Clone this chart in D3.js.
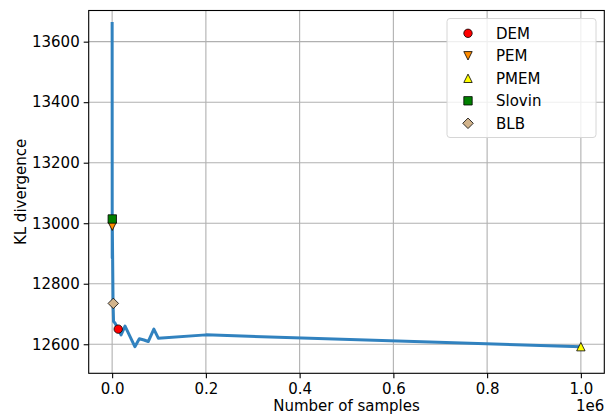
<!DOCTYPE html>
<html lang="en">
<head>
  <meta charset="UTF-8">
  <title>KL divergence</title>
  <style>
    body { margin: 0; background: #fff; }
    text { font-family: 'DejaVu Sans', sans-serif; fill: #000; }
  </style>
</head>
<body>
  <svg id="svg" width="615" height="416"></svg>

  <script src="https://d3js.org/d3.v7.min.js"></script>
  <script>
    // curve: number of samples vs KL divergence
    const sampleSizes = [10, 200, 400, 2000, 3000, 6000, 13000, 19000, 27500, 48500, 58000, 68000, 77000, 89000, 98500, 200000, 1000000]
    const klValues = [13665, 12885, 12990, 12735, 12675, 12670, 12650, 12631, 12660, 12592, 12618, 12614, 12609, 12650, 12620, 12631, 12592]

    // single estimates from each method
    const methods = ['DEM', 'PEM', 'PMEM', 'Slovin', 'BLB']
    const methodSamples = [13000, 300, 1000000, 300, 2500]
    const methodKL = [12650, 12990, 12592, 13014, 12735]
    const methodColors = ['#ff0000', '#ff8c00', '#ffff00', '#008000', '#d2b48c']
    const methodShapes = ['circle', 'triangleDown', 'triangleUp', 'square', 'diamond']

    const xTicks = [0, 200000, 400000, 600000, 800000, 1000000]
    const yTicks = [12600, 12800, 13000, 13200, 13400, 13600]

    // plot box
    const plotLeft = 88.7, plotRight = 604.3, plotTop = 10.5, plotBottom = 373.3

    const xScale = d3.scaleLinear()
      .domain([-50000, 1050000])
      .range([plotLeft, plotRight])

    const yScale = d3.scaleLinear()
      .domain([12504, 13703])
      .range([plotBottom, plotTop])

    const svg = d3.select('#svg')

    // grid
    svg.append('g')
      .selectAll('line')
      .data(xTicks)
      .enter()
      .append('line')
      .attr('x1', d => xScale(d))
      .attr('x2', d => xScale(d))
      .attr('y1', plotTop)
      .attr('y2', plotBottom)
      .attr('stroke', '#b0b0b0')
      .attr('stroke-width', 1.1)

    svg.append('g')
      .selectAll('line')
      .data(yTicks)
      .enter()
      .append('line')
      .attr('x1', plotLeft)
      .attr('x2', plotRight)
      .attr('y1', d => yScale(d))
      .attr('y2', d => yScale(d))
      .attr('stroke', '#b0b0b0')
      .attr('stroke-width', 1.1)

    // axes
    const xAxis = d3.axisBottom(xScale)
      .tickValues(xTicks)
      .tickFormat(d => (d / 1e6).toFixed(1))
      .tickSize(5)
      .tickPadding(5)

    const yAxis = d3.axisLeft(yScale)
      .tickValues(yTicks)
      .tickFormat(d => d)
      .tickSize(5)
      .tickPadding(4)

    const gx = svg.append('g')
      .attr('transform', `translate(0,${plotBottom})`)
      .call(xAxis)
    const gy = svg.append('g')
      .attr('transform', `translate(${plotLeft},0)`)
      .call(yAxis)

    ;[gx, gy].forEach(g => {
      g.select('.domain').remove()
      g.selectAll('.tick line').attr('stroke', '#000').attr('stroke-width', 1.1)
      g.selectAll('.tick text')
        .style('font-family', 'DejaVu Sans')
        .style('font-size', '15px')
        .attr('fill', '#000')
    })

    // frame
    svg.append('rect')
      .attr('x', plotLeft)
      .attr('y', plotTop)
      .attr('width', plotRight - plotLeft)
      .attr('height', plotBottom - plotTop)
      .attr('fill', 'none')
      .attr('stroke', '#000')
      .attr('stroke-width', 1.1)

    // the curve
    const line = d3.line()
      .x((d, i) => xScale(sampleSizes[i]))
      .y(d => yScale(d))

    svg.append('path')
      .datum(klValues)
      .attr('d', line)
      .attr('fill', 'none')
      .attr('stroke', '#3182bf')
      .attr('stroke-width', 3)
      .attr('stroke-linejoin', 'round')

    // marker shapes
    const s = 4.2
    function shapePath(shape) {
      if (shape === 'circle') return d3.symbol(d3.symbolCircle, Math.PI * s * s)()
      if (shape === 'square') return `M${-s},${-s}H${s}V${s}H${-s}Z`
      if (shape === 'diamond') return `M0,${-s * 1.25}L${s * 1.25},0L0,${s * 1.25}L${-s * 1.25},0Z`
      if (shape === 'triangleDown') return `M${-s},${-s}L${s},${-s}L0,${s}Z`
      return `M${-s},${s}L${s},${s}L0,${-s}Z`
    }

    svg.append('g')
      .selectAll('path')
      .data(methods)
      .enter()
      .append('path')
      .attr('d', (d, i) => shapePath(methodShapes[i]))
      .attr('transform', (d, i) => `translate(${xScale(methodSamples[i])},${yScale(methodKL[i])})`)
      .attr('fill', (d, i) => methodColors[i])
      .attr('stroke', '#000')
      .attr('stroke-width', 0.8)

    // axis labels
    svg.append('text')
      .text('Number of samples')
      .attr('x', (plotLeft + plotRight) / 2)
      .attr('y', 411)
      .attr('text-anchor', 'middle')
      .style('font-size', '15px')

    svg.append('text')
      .text('1e6')
      .attr('x', plotRight)
      .attr('y', 411)
      .attr('text-anchor', 'end')
      .style('font-size', '15px')

    svg.append('text')
      .text('KL divergence')
      .attr('transform', `translate(26,${(plotTop + plotBottom) / 2}) rotate(-90)`)
      .attr('text-anchor', 'middle')
      .style('font-size', '15px')

    // legend
    const legend = svg.append('g')
    legend.append('rect')
      .attr('x', 447)
      .attr('y', 18.5)
      .attr('width', 149)
      .attr('height', 119)
      .attr('rx', 3)
      .attr('fill', 'rgba(255,255,255,0.8)')
      .attr('stroke', '#d6d6d6')
      .attr('stroke-width', 1)

    const rows = legend.selectAll('g.row')
      .data(methods)
      .enter()
      .append('g')
      .attr('class', 'row')
      .attr('transform', (d, i) => `translate(0,${33.3 + i * 22.5})`)

    rows.append('path')
      .attr('d', (d, i) => shapePath(methodShapes[i]))
      .attr('transform', 'translate(468,0)')
      .attr('fill', (d, i) => methodColors[i])
      .attr('stroke', '#000')
      .attr('stroke-width', 0.8)

    rows.append('text')
      .text(d => d)
      .attr('x', 496)
      .attr('y', 5.5)
      .style('font-size', '15px')
  </script>
</body>
</html>
